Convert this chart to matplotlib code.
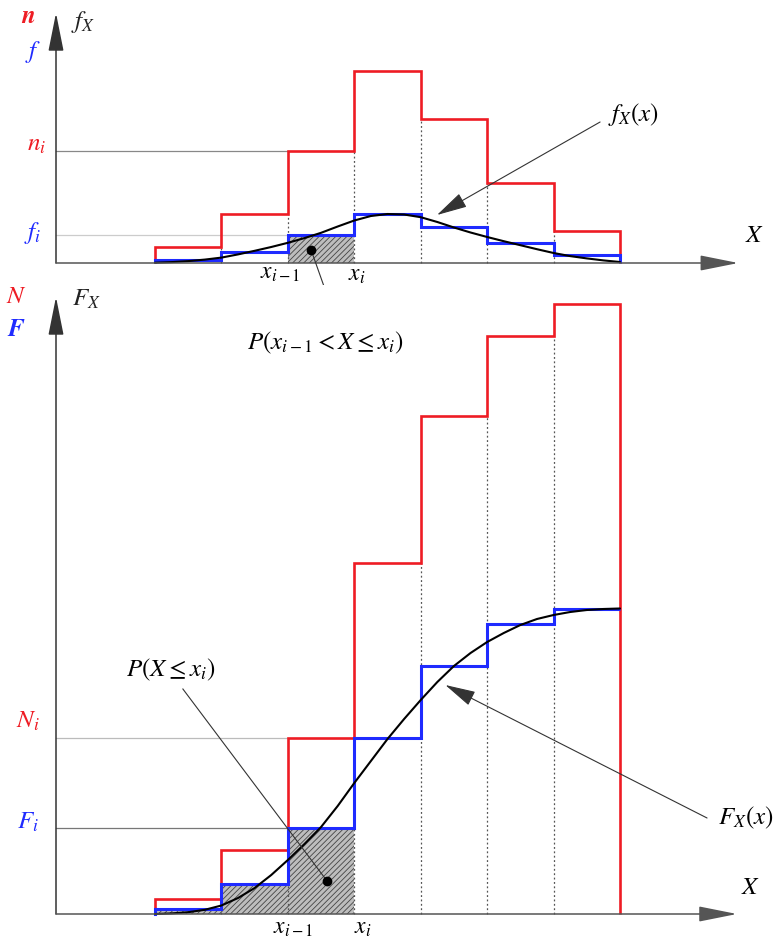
import numpy as np
import matplotlib
matplotlib.use("Agg")
import matplotlib.pyplot as plt

plt.rcParams['mathtext.fontset'] = 'stix'
plt.rcParams['font.family'] = ['STIXGeneral', 'DejaVu Serif']
plt.rcParams['hatch.linewidth'] = 0.6

# ---------------- data (class edges and heights) -------------
edges = [0, 1, 2, 3, 4, 5, 6, 7]            # class boundaries x_0 .. x_7
n_abs = [16, 49, 112, 192, 144, 80, 32]     # absolute frequencies n
f_rel = [3, 11, 28, 49, 36, 20, 8]          # relative frequencies f
N_cum = [15, 64, 176, 351, 498, 578, 610]   # cumulative absolute N
F_cum = [5, 30, 86, 176, 248, 290, 305]     # cumulative relative F

# density curve f_X(x)
pdf_x = [0.0, 0.25, 0.5, 0.75, 1.0, 1.25, 1.5, 1.75, 2.0, 2.25, 2.5, 2.75, 3.0,
         3.25, 3.5, 3.75, 4.0, 4.25, 4.5, 4.75, 5.0, 5.25, 5.5, 5.75, 6.0, 6.25,
         6.5, 6.75, 7.0]
pdf_y = [0.3, 0.9, 1.9, 3.4, 5.4, 8.6, 12.2, 16.0, 20.2, 24.9, 30.2, 36.5, 42.5,
         47.0, 49.0, 48.5, 45.8, 41.0, 35.5, 30.5, 26.0, 21.8, 17.8, 13.8, 10.0,
         6.9, 4.6, 2.6, 1.0]

# distribution curve F_X(x)
cdf_x = [0.0, 0.25, 0.5, 0.75, 1.0, 1.25, 1.5, 1.75, 2.0, 2.25, 2.5, 2.75, 3.0,
         3.25, 3.5, 3.75, 4.0, 4.25, 4.5, 4.75, 5.0, 5.25, 5.5, 5.75, 6.0, 6.25,
         6.5, 6.75, 7.0]
cdf_y = [0, 0.6, 1.8, 4.2, 8.5, 16, 26, 39, 54, 70, 87, 108, 131, 153, 175, 195,
         214, 232, 248, 261, 272, 281, 289, 295, 299, 302, 304, 305, 305.5]

RED = '#ee1c24'
BLUE = '#1f2bff'
bin_i = 2   # the highlighted class (x_{i-1}, x_i]

# ---------------- figure --------------------------------------------------------------
fig = plt.figure(figsize=(7.78, 9.38), dpi=100)
xl = (-2.333, 9.378)
ax1 = fig.add_axes([0, 1 - 285 / 938, 1, 285 / 938])
ax2 = fig.add_axes([0, 0, 1, 1 - 285 / 938])
ax1.set_xlim(*xl); ax1.set_ylim(-22, 263)
ax2.set_xlim(*xl); ax2.set_ylim(-24, 629)
for ax in (ax1, ax2):
    ax.axis('off')

FS = 18

def axes_arrows(ax, ytop, xright, y0=-1.49):
    ax.annotate('', xy=(y0, ytop), xytext=(y0, 0),
                arrowprops=dict(arrowstyle='-|>,head_length=1.4,head_width=0.28',
                                color='#333333', lw=1.1, mutation_scale=17,
                                shrinkA=0, shrinkB=0), zorder=6)
    ax.annotate('', xy=(xright, 0), xytext=(y0, 0),
                arrowprops=dict(arrowstyle='-|>,head_length=1.4,head_width=0.28',
                                color='#555555', lw=1.1, mutation_scale=17,
                                shrinkA=0, shrinkB=0), zorder=6)

def leader(ax, tip, start):
    ax.annotate('', xy=tip, xytext=start,
                arrowprops=dict(arrowstyle='-|>,head_length=1.2,head_width=0.3',
                                color='#333333', lw=0.8, mutation_scale=16,
                                shrinkA=0, shrinkB=0), zorder=7)

# ---------------- top panel: histogram -----------------------------------------------
ax = ax1
ax.stairs([f_rel[bin_i]], edges[bin_i:bin_i + 2], baseline=0, fill=True,
          facecolor='#bdbdbd', edgecolor='#444444', hatch='//////', linewidth=0, zorder=1)
for k in range(1, 7):
    ax.plot([edges[k], edges[k]], [0, min(n_abs[k - 1], n_abs[k])], ls=(0, (1.5, 2)),
            color='#555555', lw=0.9, zorder=2)
ax.plot([-1.49, edges[bin_i]], [n_abs[bin_i]] * 2, color='#888888', lw=0.9, zorder=2)
ax.plot([-1.49, edges[bin_i]], [f_rel[bin_i]] * 2, color='#cccccc', lw=0.9, zorder=2)
ax.stairs(n_abs, edges, baseline=0, color=RED, lw=1.9, zorder=3)
ax.stairs(f_rel, edges, baseline=0, color=BLUE, lw=2.2, zorder=4)
ax.plot(pdf_x, pdf_y, color='black', lw=1.5, zorder=5, solid_capstyle='round',
        solid_joinstyle='round')
axes_arrows(ax, 250, 8.78)

ax.plot([2.35], [13], 'o', color='black', ms=6, zorder=8)
ax.plot([2.35, 2.75], [13, -62], color='#333333', lw=0.8, zorder=7)
ax.text(2.56, -80, r'$P(x_{i-1} < X \leq x_i)$', fontsize=FS, ha='center', va='center')
leader(ax, (4.245, 48), (6.70, 141))
ax.text(7.2, 148, r'$f_X(x)$', fontsize=FS, ha='center', va='center')

ax.text(-1.91, 246, r'$\boldsymbol{n}$', color=RED, fontsize=FS, ha='center', va='center')
ax.text(-1.08, 241, r'$f_X$', color='#222222', fontsize=FS, ha='center', va='center')
ax.text(-1.84, 211, r'$f$', color=BLUE, fontsize=FS, ha='center', va='center')
ax.text(-1.78, 118, r'$n_i$', color=RED, fontsize=FS, ha='center', va='center')
ax.text(-1.84, 30, r'$f_i$', color=BLUE, fontsize=FS, ha='center', va='center')
ax.text(9.03, 27, r'$X$', fontsize=FS, ha='center', va='center')
ax.text(1.88, -10, r'$x_{i-1}$', fontsize=17, ha='center', va='center')
ax.text(3.04, -12, r'$x_i$', fontsize=17, ha='center', va='center')

# ---------------- bottom panel: cumulative -------------------------------------------
ax = ax2
ax.stairs(F_cum[:bin_i + 1], edges[:bin_i + 2], baseline=0, fill=True,
          facecolor='#bdbdbd', edgecolor='#444444', hatch='//////', linewidth=0, zorder=1)
for k in range(1, 7):
    ax.plot([edges[k], edges[k]], [0, N_cum[k - 1]], ls=(0, (1.5, 2)),
            color='#555555', lw=0.9, zorder=2)
ax.plot([-1.49, edges[bin_i]], [N_cum[bin_i]] * 2, color='#bbbbbb', lw=0.9, zorder=2)
ax.plot([-1.49, edges[bin_i]], [F_cum[bin_i]] * 2, color='#777777', lw=0.9, zorder=2)
ax.stairs(N_cum, edges, baseline=0, color=RED, lw=1.9, zorder=3)
ax.stairs(F_cum, edges, baseline=None, color=BLUE, lw=2.2, zorder=4)
ax.plot([edges[0], edges[0]], [0, F_cum[0]], color=BLUE, lw=2.2, zorder=4)
ax.plot(cdf_x, cdf_y, color='black', lw=1.5, zorder=5, solid_capstyle='round',
        solid_joinstyle='round')
axes_arrows(ax, 617, 8.76)

ax.plot([2.59], [33], 'o', color='black', ms=6, zorder=8)
ax.plot([2.59, 0.42], [33, 225], color='#333333', lw=0.8, zorder=7)
ax.text(0.23, 244, r'$P(X \leq x_i)$', fontsize=FS, ha='center', va='center')
leader(ax, (4.37, 229), (8.31, 96))
ax.text(8.9, 96, r'$F_X(x)$', fontsize=FS, ha='center', va='center')

ax.text(-2.08, 617, r'$N$', color=RED, fontsize=FS, ha='center', va='center')
ax.text(-2.08, 584, r'$\boldsymbol{F}$', color=BLUE, fontsize=FS, ha='center', va='center')
ax.text(-1.03, 614, r'$F_X$', color='#222222', fontsize=FS, ha='center', va='center')
ax.text(-1.91, 192, r'$N_i$', color=RED, fontsize=FS, ha='center', va='center')
ax.text(-1.91, 91, r'$F_i$', color=BLUE, fontsize=FS, ha='center', va='center')
ax.text(8.96, 26, r'$X$', fontsize=FS, ha='center', va='center')
ax.text(2.08, -14, r'$x_{i-1}$', fontsize=17, ha='center', va='center')
ax.text(3.12, -14, r'$x_i$', fontsize=17, ha='center', va='center')

fig.savefig('out.png', dpi=100)
